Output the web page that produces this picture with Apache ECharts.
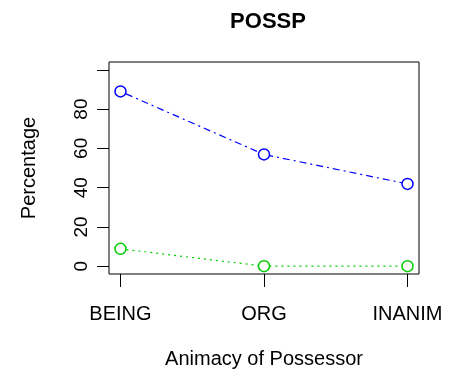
<!DOCTYPE html>
<html>
<head>
<meta charset="utf-8">
<script src="https://cdn.jsdelivr.net/npm/echarts@6/dist/echarts.min.js"></script>
<style>html,body{margin:0;padding:0;background:#fff}#c{width:459px;height:374px}</style>
</head>
<body>
<div id="c"></div>
<script>
var categories = ['BEING', 'ORG', 'INANIM'];
var blueValues = [89.0, 56.9, 41.9];
var greenValues = [8.8, 0, 0];
var yTickValues = [0, 20, 40, 60, 80, 100];
var yLabelValues = [0, 20, 40, 60, 80];
var xPositions = [1, 2, 3];

var font = 'Liberation Sans, Arial, Helvetica, sans-serif';
function pts(vals) { return vals.map(function (v, i) { return [xPositions[i], v]; }); }

var chart = echarts.init(document.getElementById('c'), null, { renderer: 'canvas' });
chart.setOption({
  animation: false,
  backgroundColor: '#fff',
  title: {
    text: 'POSSP', left: 263, top: 6, textAlign: 'center',
    textStyle: { fontFamily: font, fontWeight: 'bold', fontSize: 22, color: '#000' }
  },
  grid: { left: 109, top: 62, width: 310, height: 216, show: true, borderColor: '#000', borderWidth: 1, backgroundColor: 'transparent' },
  xAxis: {
    type: 'value', min: 0.92, max: 3.08,
    name: 'Animacy of Possessor', nameLocation: 'middle', nameGap: 75,
    nameTextStyle: { fontFamily: font, fontSize: 20, color: '#000' },
    axisLine: { show: false, onZero: false },
    splitLine: { show: false },
    axisTick: { show: true, length: 13, customValues: xPositions, lineStyle: { color: '#000', width: 1 } },
    axisLabel: { customValues: xPositions, margin: 30, fontFamily: font, fontSize: 20, color: '#000',
      formatter: function (v) { var i = xPositions.indexOf(Math.round(v)); return i >= 0 ? categories[i] : ''; } }
  },
  yAxis: {
    type: 'value', min: -4, max: 104,
    name: 'Percentage', nameLocation: 'middle', nameGap: 70, nameRotate: 90,
    nameTextStyle: { fontFamily: font, fontSize: 20, color: '#000' },
    axisLine: { show: false, onZero: false },
    splitLine: { show: false },
    axisTick: { show: true, length: 12, customValues: yTickValues, lineStyle: { color: '#000', width: 1 } },
    axisLabel: { customValues: yLabelValues, rotate: 90, margin: 18, fontFamily: font, fontSize: 19, color: '#000' }
  },
  series: [
    {
      type: 'line', data: pts(blueValues), symbol: 'circle', symbolSize: 11,
      itemStyle: { color: '#fff', borderColor: '#0000ff', borderWidth: 1.5 },
      lineStyle: { color: '#0000ff', width: 1.2, type: [2, 4, 7, 4] }
    },
    {
      type: 'line', data: pts(greenValues), symbol: 'circle', symbolSize: 11,
      itemStyle: { color: '#fff', borderColor: '#00cd00', borderWidth: 1.5 },
      lineStyle: { color: '#00cd00', width: 1.2, type: [2, 4] }
    }
  ]
});
</script>
</body>
</html>
